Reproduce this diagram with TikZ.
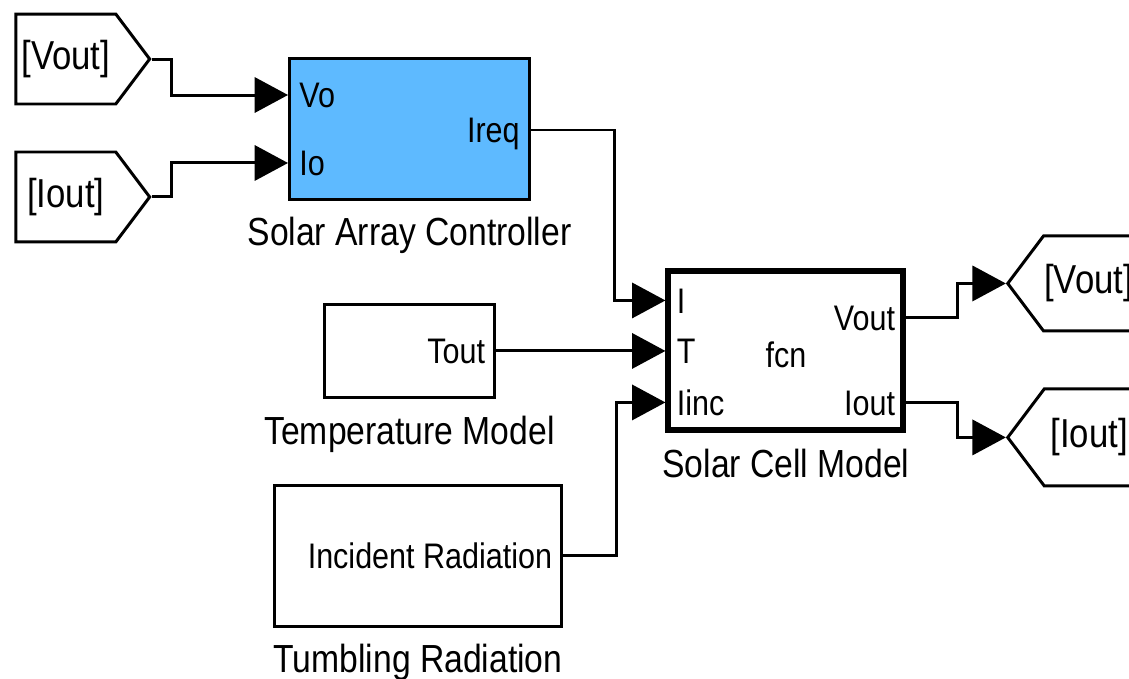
\documentclass[tikz,border=0pt]{standalone}
\usepackage{fontspec}
\setmainfont{Liberation Sans}[FakeStretch=0.86]
\usetikzlibrary{positioning}
\usetikzlibrary{shapes.symbols}
\usetikzlibrary{arrows.meta}
\definecolor{ctrlblue}{RGB}{94,186,255}
\tikzset{block node/.style={shape=rectangle,
    draw, line width=1.7pt, inner sep=0pt},
  port node/.style={inner xsep=0.22cm, inner ysep=0pt,
    text height=14.6pt, text depth=0pt, font=\fontsize{20.2}{22}\selectfont},
  caption node/.style={inner sep=0pt, font=\fontsize{22.3}{24}\selectfont},
  tag node/.style={shape=signal, draw, line width=1.7pt,
    signal pointer angle=106, inner xsep=0pt, align=center,
    font=\fontsize{23}{25}\selectfont},
  wire/.style={draw, line width=1.7pt, -{Triangle[length=19pt,width=20pt]}}}

\begin{document}
\begin{tikzpicture}[x=0.02cm, y=-0.02cm]
    \useasboundingbox (0,0) rectangle (1129,679);

    \node[block node, fill=ctrlblue, minimum width=4.8cm, minimum height=2.82cm] (1) at (409.5,129) {};
    \node[block node, minimum width=3.42cm, minimum height=1.86cm] (2) [below = 2.04cm of 1] {};
    \node[block node, minimum width=5.76cm, minimum height=2.82cm] (3) [below = 1.7cm of 2, xshift=0.17cm] {};
    \node[block node, line width=3.4pt, minimum width=4.7cm, minimum height=3.18cm] (4) [right = 3.38cm of 2] {};

    \node[caption node] (9) [below = 0.32cm of 1] {Solar Array Controller};
    \node[caption node] (10) [below = 0.34cm of 2] {Temperature Model};
    \node[caption node] (11) [below = 0.32cm of 3] {Tumbling Radiation};
    \node[caption node] (12) [below = 0.3cm of 4] {Solar Cell Model};

    % ports
    \node[port node, anchor=west] (13) at ([yshift=0.68cm]1.west) {Vo};
    \node[port node, anchor=west] (14) at ([yshift=-0.68cm]1.west) {Io};
    \node[port node, anchor=east] (15) at ([yshift=-0.02cm]1.east) {Ireq};
    \node[port node, anchor=east] (16) at (2.east) {Tout};
    \node[port node, anchor=east] (17) at (3.east) {Incident Radiation};
    \node[port node, anchor=west] (18) at ([yshift=1.01cm]4.west) {I};
    \node[port node, anchor=west] (19) at (4.west) {T};
    \node[port node, anchor=west] (20) at ([yshift=-1.03cm]4.west) {Iinc};
    \node[port node, anchor=east] (21) at ([yshift=0.67cm]4.east) {Vout};
    \node[port node, anchor=east] (22) at ([yshift=-1.03cm]4.east) {Iout};
    \node[port node] (23) at ([yshift=-0.07cm]4.center) {fcn};

    % goto / from tags
    \node[tag node, signal to=east, text width=2cm, minimum height=1.8cm] (5) [left = 2.73cm of 1.west, yshift=1.4cm] {[Vout]};
    \node[tag node, signal to=east, text width=2cm, minimum height=1.8cm] (6) [left = 2.73cm of 1.west, yshift=-1.36cm] {[Iout]};
    \node[tag node, signal to=west, text width=1.8cm, minimum height=1.9cm] (7) [right = 1.99cm of 4.east, yshift=1.35cm] {[Vout]};
    \node[tag node, signal to=west, text width=1.8cm, minimum height=1.94cm] (8) [right = 1.99cm of 4.east, yshift=-1.73cm] {[Iout]};

    \draw[wire] (5.east) -- ++(20,0) |- (1.west |- 13);
    \draw[wire] (6.east) -- ++(20,0) |- (1.west |- 14);
    \draw[wire] (1.east |- 15) -- ++(84,0) |- (4.west |- 18);
    \draw[wire] (2.east |- 16) -- (4.west |- 16);
    \draw[wire] (3.east |- 17) -- ++(53,0) |- (4.west |- 20);
    \draw[wire] (4.east |- 21) -- ++(51,0) |- (7.west);
    \draw[wire] (4.east |- 22) -- ++(51,0) |- (8.west);
\end{tikzpicture}
\end{document}
